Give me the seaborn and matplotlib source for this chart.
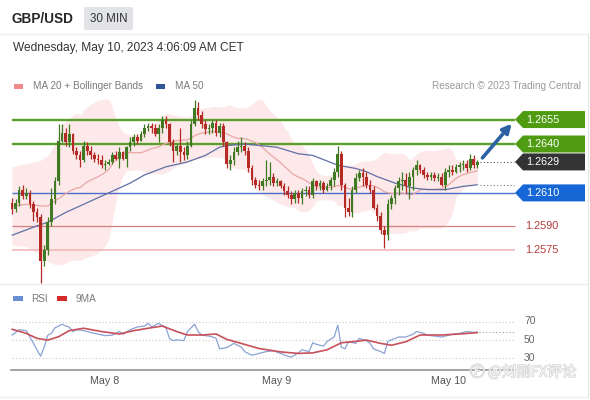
import numpy as np
import pandas as pd
import matplotlib
matplotlib.use("Agg")
import matplotlib.pyplot as plt
from matplotlib.patches import Polygon, Rectangle, FancyBboxPatch, FancyArrowPatch
from matplotlib.lines import Line2D
import matplotlib.patheffects as pe
import seaborn as sns

sns.set_theme(style="white")
plt.rcParams["font.family"] = ["Liberation Sans", "Noto Sans CJK SC", "DejaVu Sans"]

# ---------------------------------------------------------------- data
symbol = "GBP/USD"
timeframe = "30 MIN"
timestamp = "Wednesday, May 10, 2023 4:06:09 AM CET"

# 30-minute candles, May 7 evening -> May 10 04:00
open_ = [
    1.2604, 1.2600, 1.2604, 1.2612, 1.2608, 1.2610, 1.2603, 1.2598, 1.2595, 1.2568,
    1.2575, 1.2592, 1.2606, 1.2617, 1.2642, 1.2647, 1.2641, 1.2646, 1.2636, 1.2633,
    1.2630, 1.2639, 1.2636, 1.2633, 1.2631, 1.2630, 1.2627, 1.2628, 1.2629, 1.2633,
    1.2631, 1.2635, 1.2631, 1.2638, 1.2641, 1.2644, 1.2642, 1.2646, 1.2650, 1.2651,
    1.2650, 1.2646, 1.2650, 1.2655, 1.2652, 1.2641, 1.2636, 1.2639, 1.2635, 1.2633,
    1.2639, 1.2652, 1.2662, 1.2658, 1.2652, 1.2649, 1.2650, 1.2653, 1.2647, 1.2651,
    1.2641, 1.2628, 1.2630, 1.2635, 1.2638, 1.2639, 1.2636, 1.2625, 1.2618, 1.2615,
    1.2614, 1.2617, 1.2618, 1.2620, 1.2616, 1.2617, 1.2614, 1.2611, 1.2609, 1.2606,
    1.2610, 1.2607, 1.2611, 1.2612, 1.2609, 1.2617, 1.2614, 1.2616, 1.2612, 1.2614,
    1.2618, 1.2623, 1.2634, 1.2615, 1.2601, 1.2598, 1.2612, 1.2619, 1.2622, 1.2620,
    1.2615, 1.2612, 1.2601, 1.2596, 1.2587, 1.2584, 1.2603, 1.2607, 1.2613, 1.2617,
    1.2618, 1.2614, 1.2620, 1.2624, 1.2627, 1.2624, 1.2621, 1.2620, 1.2621, 1.2619,
    1.2620, 1.2615, 1.2623, 1.2624, 1.2623, 1.2626, 1.2627, 1.2628, 1.2625, 1.2631,
    1.2627,
]
high = [
    1.2607, 1.2606, 1.2614, 1.2615, 1.2613, 1.2612, 1.2605, 1.2601, 1.2597, 1.2578,
    1.2595, 1.2613, 1.2620, 1.2652, 1.2652, 1.2650, 1.2652, 1.2647, 1.2638, 1.2636,
    1.2642, 1.2641, 1.2639, 1.2635, 1.2634, 1.2633, 1.2630, 1.2631, 1.2635, 1.2636,
    1.2638, 1.2636, 1.2639, 1.2644, 1.2646, 1.2646, 1.2648, 1.2652, 1.2653, 1.2653,
    1.2652, 1.2652, 1.2657, 1.2657, 1.2653, 1.2643, 1.2640, 1.2650, 1.2638, 1.2642,
    1.2655, 1.2667, 1.2666, 1.2660, 1.2655, 1.2652, 1.2655, 1.2655, 1.2653, 1.2653,
    1.2642, 1.2633, 1.2638, 1.2642, 1.2644, 1.2641, 1.2638, 1.2627, 1.2620, 1.2618,
    1.2619, 1.2630, 1.2629, 1.2622, 1.2619, 1.2618, 1.2616, 1.2614, 1.2611, 1.2612,
    1.2612, 1.2613, 1.2614, 1.2614, 1.2619, 1.2618, 1.2618, 1.2617, 1.2616, 1.2620,
    1.2625, 1.2639, 1.2636, 1.2616, 1.2607, 1.2614, 1.2622, 1.2624, 1.2625, 1.2623,
    1.2618, 1.2614, 1.2603, 1.2598, 1.2590, 1.2606, 1.2609, 1.2615, 1.2620, 1.2623,
    1.2622, 1.2623, 1.2626, 1.2630, 1.2628, 1.2626, 1.2623, 1.2623, 1.2623, 1.2622,
    1.2622, 1.2625, 1.2627, 1.2627, 1.2628, 1.2629, 1.2630, 1.2630, 1.2634, 1.2633,
    1.2630,
]
low = [
    1.2597, 1.2598, 1.2602, 1.2606, 1.2606, 1.2601, 1.2593, 1.2592, 1.2555, 1.2565,
    1.2572, 1.2590, 1.2603, 1.2615, 1.2641, 1.2639, 1.2638, 1.2634, 1.2631, 1.2626,
    1.2629, 1.2633, 1.2631, 1.2629, 1.2628, 1.2625, 1.2624, 1.2627, 1.2628, 1.2630,
    1.2625, 1.2630, 1.2626, 1.2636, 1.2639, 1.2640, 1.2642, 1.2644, 1.2648, 1.2647,
    1.2645, 1.2641, 1.2647, 1.2650, 1.2639, 1.2629, 1.2633, 1.2629, 1.2630, 1.2631,
    1.2638, 1.2651, 1.2655, 1.2650, 1.2646, 1.2646, 1.2647, 1.2645, 1.2644, 1.2639,
    1.2625, 1.2624, 1.2627, 1.2633, 1.2635, 1.2633, 1.2623, 1.2615, 1.2613, 1.2612,
    1.2612, 1.2614, 1.2615, 1.2614, 1.2614, 1.2613, 1.2609, 1.2607, 1.2603, 1.2604,
    1.2604, 1.2603, 1.2608, 1.2607, 1.2607, 1.2612, 1.2612, 1.2610, 1.2611, 1.2612,
    1.2614, 1.2620, 1.2612, 1.2595, 1.2596, 1.2595, 1.2610, 1.2617, 1.2614, 1.2613,
    1.2610, 1.2600, 1.2593, 1.2585, 1.2576, 1.2581, 1.2600, 1.2603, 1.2609, 1.2612,
    1.2610, 1.2606, 1.2612, 1.2621, 1.2622, 1.2619, 1.2618, 1.2618, 1.2617, 1.2617,
    1.2614, 1.2612, 1.2620, 1.2621, 1.2622, 1.2623, 1.2624, 1.2623, 1.2624, 1.2625,
    1.2625,
]
close = [
    1.2600, 1.2604, 1.2612, 1.2608, 1.2610, 1.2603, 1.2598, 1.2595, 1.2568, 1.2575,
    1.2592, 1.2606, 1.2617, 1.2642, 1.2647, 1.2641, 1.2646, 1.2636, 1.2633, 1.2630,
    1.2639, 1.2636, 1.2633, 1.2631, 1.2630, 1.2627, 1.2628, 1.2629, 1.2633, 1.2631,
    1.2635, 1.2631, 1.2638, 1.2641, 1.2644, 1.2642, 1.2646, 1.2650, 1.2651, 1.2650,
    1.2646, 1.2650, 1.2655, 1.2652, 1.2641, 1.2636, 1.2639, 1.2635, 1.2633, 1.2639,
    1.2652, 1.2662, 1.2658, 1.2652, 1.2649, 1.2650, 1.2653, 1.2647, 1.2651, 1.2641,
    1.2628, 1.2630, 1.2635, 1.2638, 1.2639, 1.2636, 1.2625, 1.2618, 1.2615, 1.2614,
    1.2617, 1.2618, 1.2620, 1.2616, 1.2617, 1.2614, 1.2611, 1.2609, 1.2606, 1.2610,
    1.2607, 1.2611, 1.2612, 1.2609, 1.2617, 1.2614, 1.2616, 1.2612, 1.2614, 1.2618,
    1.2623, 1.2634, 1.2615, 1.2601, 1.2598, 1.2612, 1.2619, 1.2622, 1.2620, 1.2615,
    1.2612, 1.2601, 1.2596, 1.2587, 1.2584, 1.2603, 1.2607, 1.2613, 1.2617, 1.2618,
    1.2614, 1.2620, 1.2624, 1.2627, 1.2624, 1.2621, 1.2620, 1.2621, 1.2619, 1.2620,
    1.2615, 1.2623, 1.2624, 1.2623, 1.2626, 1.2627, 1.2628, 1.2625, 1.2631, 1.2627,
    1.2629,
]

# Bollinger(20) values before a full 20-bar window is available on screen
bb_head_index = [0, 4, 8, 10, 12, 14, 16, 18]
bb_head_mid = [1.2602, 1.2603, 1.2602, 1.2602, 1.2605, 1.2608, 1.2611, 1.2613]
bb_head_upper = [1.2626, 1.2628, 1.2630, 1.2633, 1.2640, 1.2652, 1.2656, 1.2659]
bb_head_lower = [1.2578, 1.2577, 1.2572, 1.2568, 1.2566, 1.2566, 1.2568, 1.2569]

# 50-period moving average
ma50_index = [0, 6, 10, 15, 20, 27, 33, 37, 43, 49, 54, 58, 60, 65, 74, 80, 84,
              91, 96, 99, 102, 107, 112, 116, 121, 126, 130]
ma50_value = [1.2584, 1.2589, 1.2592, 1.2598, 1.2603, 1.2610, 1.2616, 1.2621,
              1.2626, 1.2629, 1.2633, 1.2638, 1.2639, 1.2640, 1.2638, 1.2634,
              1.2633, 1.2627, 1.2625, 1.2623, 1.2620, 1.2616, 1.2613, 1.2612,
              1.2612, 1.2614, 1.2615]

# RSI(14) and its 9-period average
rsi_index = [0, 2, 4, 5, 6, 8, 9, 10, 11, 12, 14, 15, 16, 17, 18, 20, 23, 26, 28,
             30, 31, 33, 35, 37, 38, 39, 41, 43, 44, 45, 46, 48, 49, 51, 52, 53,
             55, 56, 57, 58, 60, 62, 64, 65, 67, 69, 71, 73, 75, 77, 78, 80, 81,
             83, 84, 85, 87, 88, 90, 91, 92, 93, 94, 96, 97, 99, 100, 101, 103,
             104, 105, 106, 108, 110, 112, 113, 115, 116, 118, 120, 122, 123, 125,
             127, 129, 130]
rsi_value = [55, 61, 60, 53, 46, 32, 42, 55, 57, 63, 67, 65, 64, 59, 61, 60, 57,
             54.5, 55, 59, 56, 61, 64, 65, 68, 64, 68, 63, 51.5, 49, 50, 49, 59,
             67, 59, 55, 54, 53, 51.5, 40, 41.5, 46, 42, 37, 33, 35, 37, 38, 35,
             32, 31, 35.6, 39, 37, 46.7, 45, 43, 48, 53, 66, 42, 40, 48, 46, 51.5,
             49, 46, 40, 37, 35, 48, 50, 53, 53, 56, 59, 57, 55, 54, 53, 55, 56,
             57, 59, 58, 58.5]
rsi_ma_index = [0, 4, 7, 10, 13, 16, 20, 25, 30, 34, 38, 42, 46, 49, 53, 57, 60,
                64, 69, 75, 80, 84, 88, 92, 95, 99, 103, 106, 110, 114, 120, 125,
                130]
rsi_ma_value = [61.5, 57, 51.5, 49.6, 53.3, 60, 62.6, 59, 56.3, 60, 62.6, 65, 59,
                55.2, 55.2, 56.3, 50.4, 46, 40.4, 36.7, 35, 35.6, 39, 46.7, 47.8,
                49.6, 46, 44, 47.8, 55.2, 55.2, 56.3, 57.8]
rsi_levels = [70, 50, 30]

# key levels
resistance = [1.2655, 1.2640]
pivot = 1.2610
support = [1.2590, 1.2575]

date_labels = ["May 8", "May 9", "May 10"]
date_index = [26, 74, 122]

# ---------------------------------------------------------------- layout helpers
W, H = 590, 400
X0, STEP = 12.0, 3.58            # pixel x of first candle, pixels per candle
Y_REF, P_REF, PX_PER_PRICE = 144.0, 1.2640, 16300.0


def px2i(x):
    return (x - X0) / STEP


def py2p(y):
    return P_REF - (y - Y_REF) / PX_PER_PRICE


def rect(x0, y0, x1, y1):
    return [x0 / W, 1 - y1 / H, (x1 - x0) / W, (y1 - y0) / H]


def fx(x):
    return x / W


def fy(y):
    return 1 - y / H


fig = plt.figure(figsize=(W / 100, H / 100), dpi=100)
fig.patch.set_facecolor("white")

# ---------------------------------------------------------------- header
fig.text(fx(12), fy(19), symbol, fontsize=9.8, fontweight="bold", color="#262626",
         va="center", ha="left")
fig.add_artist(FancyBboxPatch((fx(84), fy(30)), fx(49), 23 / H,
                              boxstyle="round,pad=0,rounding_size=0.004",
                              transform=fig.transFigure, fc="#e1e3e7", ec="none"))
fig.text(fx(108.5), fy(19), timeframe, fontsize=8.4, color="#333333",
         va="center", ha="center")
fig.text(fx(13), fy(48), timestamp, fontsize=8.6, color="#333333",
         va="center", ha="left")

for y0 in (34, 284, 397):
    fig.add_artist(Line2D([0, fx(588)], [fy(y0)] * 2, color="#ececec", lw=0.9,
                          transform=fig.transFigure))
fig.add_artist(Line2D([fx(588)] * 2, [fy(34), fy(397)], color="#e6e6e6", lw=0.9,
                      transform=fig.transFigure))

# legend row of the price panel
fig.add_artist(Rectangle((fx(14), fy(89)), 9 / W, 5 / H, fc="#f08a8a", ec="none",
                         transform=fig.transFigure))
fig.text(fx(33), fy(86), "MA 20 + Bollinger Bands", fontsize=7.2, color="#7a7a7a",
         va="center", ha="left")
fig.add_artist(Rectangle((fx(156), fy(89)), 9 / W, 5 / H, fc="#2f5597", ec="none",
                         transform=fig.transFigure))
fig.text(fx(175), fy(86), "MA 50", fontsize=7.2, color="#7a7a7a",
         va="center", ha="left")
fig.text(fx(581), fy(86), "Research \u00a9 2023 Trading Central", fontsize=7.2,
         color="#9a9a9a", va="center", ha="right")

# ---------------------------------------------------------------- price panel
ax = fig.add_axes(rect(0, 95, W, 285))
ax.set_xlim(px2i(0), px2i(W))
ax.set_ylim(py2p(285), py2p(95))
ax.axis("off")

n = len(close)
idx = np.arange(n)
o, h, l, c = map(np.asarray, (open_, high, low, close))

# Bollinger bands / MA20 from the closes, preceded by the on-screen head values
s = pd.Series(c)
mid_calc = s.rolling(20).mean().to_numpy()
sd_calc = s.rolling(20).std(ddof=0).to_numpy()
bb_x = np.r_[bb_head_index, idx[19:]]
bb_mid = np.r_[bb_head_mid, mid_calc[19:]]
bb_up = np.r_[bb_head_upper, mid_calc[19:] + 2 * sd_calc[19:]]
bb_lo = np.r_[bb_head_lower, mid_calc[19:] - 2 * sd_calc[19:]]

ax.fill_between(bb_x, bb_lo, bb_up, color="#fde9e9", lw=0, zorder=1)
sns.lineplot(x=bb_x, y=bb_mid, ax=ax, color="#eaa6a6", lw=0.9, legend=False,
             zorder=3)
sns.lineplot(x=ma50_index, y=ma50_value, ax=ax, color="#5f6fa6", lw=0.9,
             legend=False, zorder=3)

# key levels
x_start, x_tag = px2i(12), px2i(515)
for lv in resistance:
    ax.hlines(lv, x_start, x_tag, color="#5c9e2b", lw=1.7, zorder=2)
ax.hlines(pivot, x_start, x_tag, color="#4a70cc", lw=1.0, zorder=2)
ax.hlines(support[0], x_start, x_tag, color="#d28080", lw=0.9, zorder=2)
ax.hlines(support[1], x_start, x_tag, color="#f2bcbc", lw=1.3, zorder=2)

# candles
up = c >= o
green, red = "#3f7a22", "#b52a24"
col = np.where(up, green, red)
ax.vlines(idx, l, h, colors=col, lw=0.9, zorder=4)
body_lo = np.minimum(o, c)
body_h = np.maximum(np.abs(c - o), 0.00005)
ax.bar(idx, body_h, bottom=body_lo, width=0.74, color=col, lw=0, zorder=5)

# price tags on the right edge
half = 8.5 / PX_PER_PRICE


def tag(level, face, text):
    xs = [px2i(515), px2i(523), px2i(585), px2i(585), px2i(523)]
    ys = [level, level + half, level + half, level - half, level - half]
    ax.add_patch(Polygon(np.c_[xs, ys], closed=True, fc=face, ec="none",
                         clip_on=False, zorder=6))
    ax.text(px2i(526), level, text, color="white", fontsize=7.8, va="center",
            ha="left", zorder=7)


for lv in resistance:
    tag(lv, "#4f9c12", f"{lv:.4f}")
tag(c[-1], "#333333", f"{c[-1]:.4f}")
tag(pivot, "#1766d6", f"{pivot:.4f}")
for lv in support:
    ax.text(px2i(525), lv, f"{lv:.4f}", color="#b53a3a", fontsize=7.8,
            va="center", ha="left")

# dotted leaders from the last bar
ax.hlines(c[-1], n - 0.2, px2i(514), color="#555555", lw=0.8,
          linestyles=(0, (1, 2)), zorder=2)
ax.hlines(ma50_value[-1], n - 0.2, px2i(514), color="#777777", lw=0.8,
          linestyles=(0, (1, 2)), zorder=2)

# projected move towards the first resistance
ax.add_patch(FancyArrowPatch((n - 0.1, c[-1] + 0.00012),
                             (px2i(513.5), resistance[0] - 0.00012),
                             arrowstyle="-|>", mutation_scale=13, lw=2.6,
                             color="#2c62a4", clip_on=False, zorder=8))

# ---------------------------------------------------------------- RSI panel
fig.add_artist(Rectangle((fx(13), fy(301)), 10 / W, 5 / H, fc="#6b8fd4", ec="none",
                         transform=fig.transFigure))
fig.text(fx(31), fy(299), "RSI", fontsize=7.2, color="#7a7a7a", va="center",
         ha="left")
fig.add_artist(Rectangle((fx(57), fy(301)), 10 / W, 5 / H, fc="#d42a2a", ec="none",
                         transform=fig.transFigure))
fig.text(fx(76), fy(299), "9MA", fontsize=7.2, color="#7a7a7a", va="center",
         ha="left")

RSI_PX = (358.0 - 321.5) / 40.0
ax2 = fig.add_axes(rect(0, 305, W, 370))
ax2.set_xlim(px2i(0), px2i(W))
ax2.set_ylim(30 - (370 - 358.0) / RSI_PX, 70 + (321.5 - 305) / RSI_PX)
for sp in ("top", "right", "left"):
    ax2.spines[sp].set_visible(False)
ax2.spines["bottom"].set_color("#9c9c9c")
ax2.spines["bottom"].set_linewidth(1.3)
ax2.spines["bottom"].set_bounds(px2i(11), px2i(515))
ax2.set_yticks([])
ax2.set_xticks(date_index)
ax2.set_xticklabels(date_labels)
ax2.tick_params(axis="x", length=0, pad=4.5, labelsize=7.7, labelcolor="#555555")
ax2.set_xticks([px2i(11)], minor=True)
ax2.tick_params(axis="x", which="minor", length=5, width=1.1, color="#9c9c9c",
                direction="out")
ax2.set_facecolor("none")

for lv in rsi_levels:
    ax2.hlines(lv, px2i(12), px2i(515), color="#c9c9c9", lw=0.8,
               linestyles=(0, (1, 2)))
    ax2.text(px2i(524), lv, str(lv), fontsize=7.5, color="#666666", va="center",
             ha="left")

sns.lineplot(x=rsi_index, y=rsi_value, ax=ax2, color="#8aa2d4", lw=0.9,
             legend=False, zorder=3)
sns.lineplot(x=rsi_ma_index, y=rsi_ma_value, ax=ax2, color="#c8505a", lw=1.2,
             legend=False, zorder=4)
ax2.hlines(rsi_value[-1], rsi_index[-1] + 0.5, px2i(514), color="#9a9a9a", lw=0.8,
           linestyles=(0, (1, 2)))
ax2.set_xlabel("")
ax2.set_ylabel("")

# faint reposting mark in the lower corner
fig.text(fx(470), fy(372), "\u24bb @刘刚FX评论", fontsize=10.5, color="#f4f4f4",
         va="center", ha="left", family=["Noto Sans CJK SC", "DejaVu Sans"],
         zorder=10,
         path_effects=[pe.withStroke(linewidth=1.0, foreground="#d6d6d6")])

fig.savefig("out.png", dpi=100, facecolor="white")
